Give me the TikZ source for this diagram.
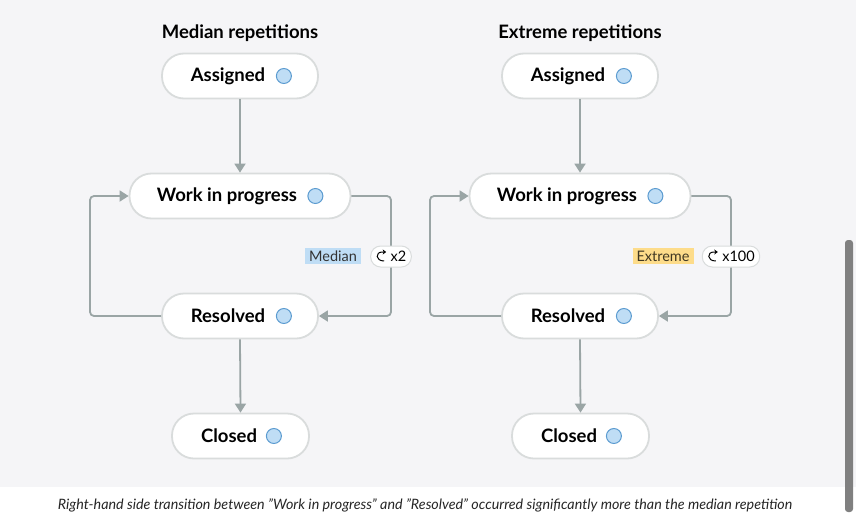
\documentclass[tikz,border=0pt]{standalone}
\usepackage{fontspec}
\setmainfont{Lato}
\usetikzlibrary{arrows.meta}
\definecolor{bg}{HTML}{F5F5F7}
\definecolor{ln}{HTML}{9AA5A5}
\definecolor{nb}{HTML}{D9DCDC}
\definecolor{cf}{HTML}{BFDDF5}
\definecolor{cb}{HTML}{5B9BD0}
\definecolor{yl}{HTML}{FDDC8A}
\begin{document}
\begin{tikzpicture}[x=1pt,y=-1pt,
  st/.style={draw=nb,line width=1.8pt,fill=white,rounded corners=22pt,minimum height=45pt,inner sep=0pt},
  lbl/.style={font=\bfseries\fontsize{18.5}{21}\selectfont,text=black},
  dot/.style={circle,draw=cb,fill=cf,line width=1pt,minimum size=15pt,inner sep=0pt},
  con/.style={draw=ln,line width=1.8pt,rounded corners=4pt},
  arr/.style={con,-{Triangle[length=9pt,width=11pt]}},
  tag/.style={font=\fontsize{14.5}{15}\selectfont,inner xsep=4pt,inner ysep=3pt,text=black!80},
  badge/.style={draw=nb,line width=1pt,fill=white,rounded corners=10pt,minimum height=21pt,inner xsep=5pt,font=\fontsize{14.5}{15}\selectfont}]
\useasboundingbox (0,0) rectangle (856,530);
\fill[bg] (0,0) rectangle (856,487);
\fill[white] (0,487) rectangle (856,530);
\fill[black!50,rounded corners=3pt] (845,240) rectangle (853,512);
\foreach \o/\t/\k in {0/Median repetitions/Median, 340/Extreme repetitions/Extreme}{
 \begin{scope}[xshift=\o pt]
 \node[font=\bfseries\fontsize{18.5}{20}\selectfont] (t\k) at (240,33) {\t};
 \node[st,minimum width=156pt] (a\k) at (240,76) {};
 \node[st,minimum width=221pt] (w\k) at (240,196) {};
 \node[st,minimum width=156pt] (r\k) at (240,316) {};
 \node[st,minimum width=137pt] (c\k) at (240.5,436) {};
 \node[lbl] (at\k) at (228,76) {Assigned};
 \node[lbl] (wt\k) at (227,196) {Work in progress};
 \node[lbl] (rt\k) at (228,316) {Resolved};
 \node[lbl] (ct\k) at (229,436) {Closed};
 \node[dot] (ad\k) at ([xshift=-35pt]a\k.east) {};
 \node[dot] (wd\k) at ([xshift=-36pt]w\k.east) {};
 \node[dot] (rd\k) at ([xshift=-35pt]r\k.east) {};
 \node[dot] (cd\k) at ([xshift=-36pt]c\k.east) {};
 \draw[arr] (a\k.south) -- (w\k.north);
 \draw[arr] (r\k.south) -- (c\k.north);
 \draw[arr] (w\k.east) -| (391,316) -- (r\k.east);
 \draw[arr] (r\k.west) -| (90,196) -- (w\k.west);
 \end{scope}}
\node[tag,fill=cf] (mtag) at (333,256) {Median};
\node[badge,minimum width=40pt] (mb) at (391,256.5) {\hspace{15pt}x2};
\node[tag,fill=yl,text=black!75!yl] (etag) at (663,256) {Extreme};
\node[badge,minimum width=57pt] (eb) at (731,256.5) {\hspace{15pt}x100};
\foreach \b in {mb,eb}{
 \coordinate (ic\b) at ([xshift=11pt]\b.west);
 \draw[line width=1pt,-{Stealth[length=3.5pt,width=5pt]}] ([xshift=3pt,yshift=-4.5pt]ic\b) .. controls ([xshift=-6pt,yshift=-4.5pt]ic\b) and ([xshift=-6pt,yshift=4.5pt]ic\b) .. ([xshift=1pt,yshift=4.5pt]ic\b) -- ([xshift=5pt,yshift=4.5pt]ic\b);
}
\node[font=\itshape\fontsize{14.3}{16}\selectfont,text=black!85] (cap) at (425,505) {Right-hand side transition between "Work in progress" and "Resolved" occurred significantly more than the median repetition};
\end{tikzpicture}
\end{document}
